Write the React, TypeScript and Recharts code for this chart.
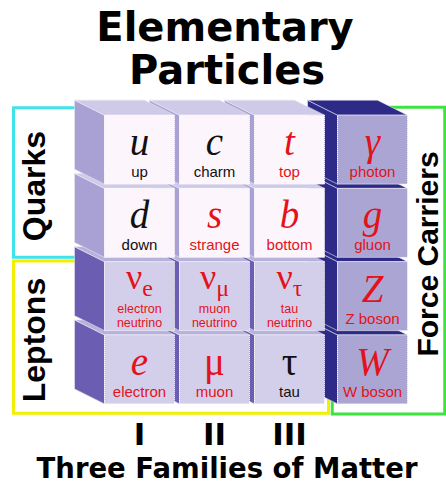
import React from "react";
import { ScatterChart, Scatter, XAxis, YAxis, ReferenceArea } from "recharts";

// families of matter (x axis)
const FAMILIES = ["I", "II", "III"];

// particle rows, one entry per family
const UP_QUARKS = ["u", "c", "t"];
const UP_NAMES = ["up", "charm", "top"];
const DOWN_QUARKS = ["d", "s", "b"];
const DOWN_NAMES = ["down", "strange", "bottom"];
const NEUTRINO_FLAVOURS = ["e", "μ", "τ"];
const NEUTRINO_NAMES = ["electron", "muon", "tau"];
const CHARGED_LEPTONS = ["e", "μ", "τ"];
const LEPTON_NAMES = ["electron", "muon", "tau"];
const BOSONS = ["γ", "g", "Z", "W"];
const BOSON_NAMES = ["photon", "gluon", "Z boson", "W boson"];

const BLACK_SYMBOLS = ["u", "c", "d", "τ"]; // everything else is printed in red

const SANS = "'Liberation Sans', Arial, Helvetica, sans-serif";
const WIDE = "'DejaVu Sans', Verdana, sans-serif";
const SERIF = "'Liberation Serif', 'Times New Roman', serif";
const RED = "#e3121b";

const matterRows = [
  { kind: "quark", symbols: UP_QUARKS, names: UP_NAMES.map((n) => [n]), sub: false },
  { kind: "quark", symbols: DOWN_QUARKS, names: DOWN_NAMES.map((n) => [n]), sub: false },
  { kind: "lepton", symbols: NEUTRINO_FLAVOURS, names: NEUTRINO_NAMES.map((n) => [n, "neutrino"]), sub: true },
  { kind: "lepton", symbols: CHARGED_LEPTONS, names: LEPTON_NAMES.map((n) => [n]), sub: false },
];

// draw bottom rows first and right columns first so front cubes cover the back ones
const matter = matterRows
  .flatMap((row, ri) =>
    row.symbols.map((s, ci) => ({
      x: ci + 1,
      y: ri + 1,
      symbol: row.sub ? "ν" : s,
      sub: row.sub ? s : "",
      names: row.names[ci],
      kind: row.kind,
    }))
  )
  .sort((a, b) => b.y - a.y || b.x - a.x);

const forces = BOSONS.map((s, i) => ({
  x: 4,
  y: i + 1,
  symbol: s,
  sub: "",
  names: [BOSON_NAMES[i]],
  kind: "force",
})).reverse();

const CELL_W = 70;
const CELL_H = 69;
const DEPTH_X = -30;
const DEPTH_Y = -15;

const FACES: any = {
  quark: { front: "#fcf6fc", side: "#a9a1d3", top: "#cfcae8" },
  lepton: { front: "#d3cfea", side: "#6b5db1", top: "#b7b1dc" },
  force: { front: "#aaa5d3", side: "#2e2b88", top: "#2e2b88" },
};

const Cube = (props: any) => {
  const { cx, cy, payload } = props;
  if (cx == null || cy == null) return null;
  const shift = payload.kind === "force" ? 8 : 0;
  const x0 = cx - CELL_W / 2 + shift;
  const y0 = cy - CELL_H / 2;
  const c = FACES[payload.kind];
  const side = `${x0},${y0} ${x0 + DEPTH_X},${y0 + DEPTH_Y} ${x0 + DEPTH_X},${y0 + CELL_H + DEPTH_Y} ${x0},${y0 + CELL_H}`;
  const top = `${x0},${y0} ${x0 + CELL_W},${y0} ${x0 + CELL_W + DEPTH_X},${y0 + DEPTH_Y} ${x0 + DEPTH_X},${y0 + DEPTH_Y}`;
  const color = BLACK_SYMBOLS.includes(payload.symbol) && !payload.sub ? "#111" : RED;
  const mid = x0 + CELL_W / 2;
  const italic = /[a-zA-Zγ]/.test(payload.symbol);
  const twoLines = payload.names.length > 1;

  return (
    <g>
      <polygon points={side} fill={c.side} stroke="#e8e6f4" strokeWidth={0.6} />
      <polygon points={top} fill={c.top} stroke="#e8e6f4" strokeWidth={0.6} />
      <rect
        x={x0}
        y={y0}
        width={CELL_W}
        height={CELL_H}
        fill={c.front}
        stroke="#ffffff"
        strokeWidth={1}
        strokeDasharray="1 1"
      />
      <text
        x={mid}
        y={y0 + (twoLines ? 27 : 40)}
        textAnchor="middle"
        fontFamily={SERIF}
        fontStyle={italic ? "italic" : "normal"}
        fontSize={twoLines ? 36 : 39}
        fill={color}
      >
        {payload.symbol}
        {payload.sub ? (
          <tspan fontSize={24} dy={7} fontStyle="normal">
            {payload.sub}
          </tspan>
        ) : null}
      </text>
      {payload.names.map((n: string, i: number) => (
        <text
          key={n}
          x={mid}
          y={y0 + (twoLines ? 51 + i * 14.5 : 62)}
          textAnchor="middle"
          fontFamily={SANS}
          fontSize={twoLines ? 12.5 : 15}
          fill={color}
        >
          {n}
        </text>
      ))}
    </g>
  );
};

const FamilyTick = (props: any) => {
  const { x, y, payload } = props;
  return (
    <text x={x} y={y + 31} textAnchor="middle" fontFamily={WIDE} fontWeight="bold" fontSize={31} fill="#000">
      {FAMILIES[payload.value - 1]}
    </text>
  );
};

const sansBold = { fontFamily: SANS, fontWeight: "bold" as const, fill: "#000" };
const wideBold = { fontFamily: WIDE, fontWeight: "bold" as const, fill: "#000" };

export default function App() {
  return (
    <div style={{ position: "absolute", left: 0, top: 0, background: "#fff" }}>
      <ScatterChart width={446} height={487} margin={{ top: 113, right: 44, bottom: 41, left: 102 }}>
        <XAxis
          type="number"
          dataKey="x"
          domain={[0.5, 4.5]}
          ticks={[1, 2, 3]}
          axisLine={false}
          tickLine={false}
          height={40}
          tick={<FamilyTick />}
        />
        <YAxis type="number" dataKey="y" domain={[0.5, 4.5]} reversed hide />
        <Scatter data={forces} shape={<Cube />} isAnimationActive={false} />
        <Scatter data={matter} shape={<Cube />} isAnimationActive={false} />
        <ReferenceArea x1={-0.68} x2={3.52} y1={0.43} y2={2.47} fill="none" stroke="#3fe3ea" strokeWidth={3} ifOverflow="visible" />
        <ReferenceArea x1={-0.68} x2={3.52} y1={2.52} y2={4.6} fill="none" stroke="#f2f000" strokeWidth={3} ifOverflow="visible" />
        <ReferenceArea x1={3.57} x2={5.07} y1={0.42} y2={4.61} fill="none" stroke="#3ee33e" strokeWidth={3} ifOverflow="visible" />
        <text x={225} y={41} textAnchor="middle" fontSize={40} {...wideBold}>
          Elementary
        </text>
        <text x={227} y={84} textAnchor="middle" fontSize={40} {...wideBold}>
          Particles
        </text>
        <text transform="translate(45,186) rotate(-90)" textAnchor="middle" fontSize={32} {...sansBold}>
          Quarks
        </text>
        <text transform="translate(45,340) rotate(-90)" textAnchor="middle" fontSize={32} {...sansBold}>
          Leptons
        </text>
        <text transform="translate(438,254) rotate(-90)" textAnchor="middle" fontSize={30} {...sansBold}>
          Force Carriers
        </text>
        <text x={227} y={478} textAnchor="middle" fontSize={27.5} {...wideBold}>
          Three Families of Matter
        </text>
      </ScatterChart>
    </div>
  );
}
